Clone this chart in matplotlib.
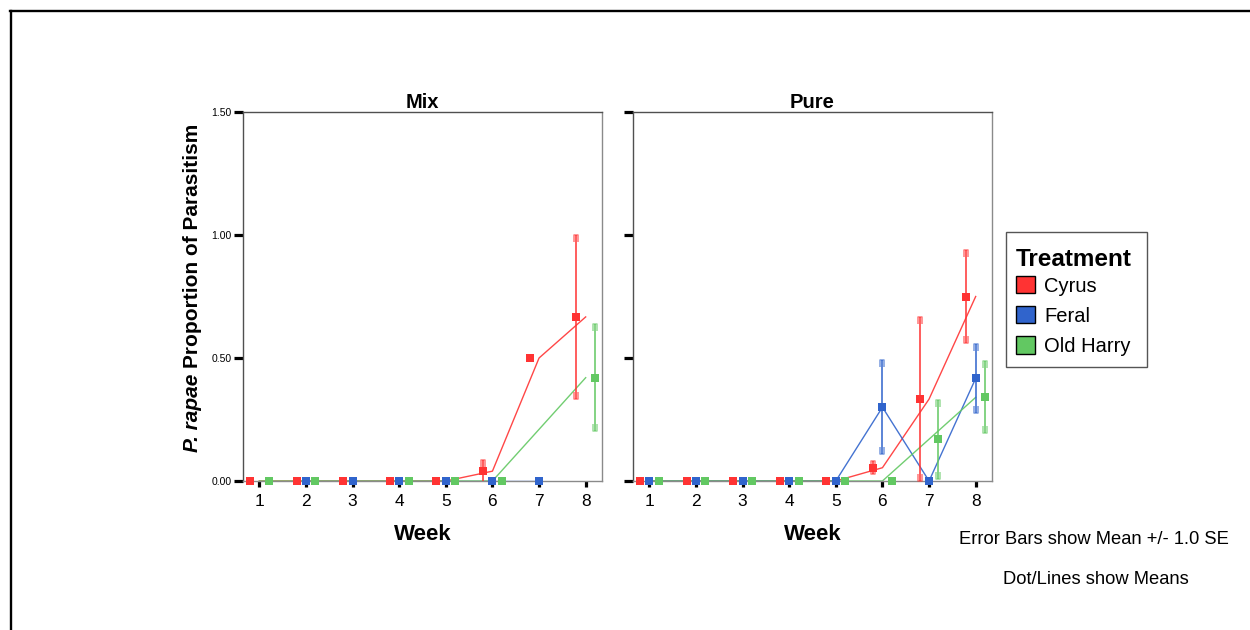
import numpy as np
import matplotlib
matplotlib.use('Agg')
import matplotlib.pyplot as plt
from matplotlib.path import Path
from matplotlib.patches import Patch, Rectangle
from matplotlib.lines import Line2D

plt.rcParams['font.family'] = ['Liberation Sans', 'DejaVu Sans']

nan = np.nan
weeks = [1, 2, 3, 4, 5, 6, 7, 8]
treatments = ['Cyrus', 'Feral', 'Old Harry']
colors = ['#ff3333', '#3064cc', '#62c862']
offsets = [-0.2, 0.0, 0.2]

# Mix plots: mean proportion parasitised and SE per week
mix_cyrus = [0, 0, 0, 0, 0, 0.04, 0.50, 0.667]
mix_cyrus_se = [0, 0, 0, 0, 0, 0.047, 0, 0.333]
mix_feral = [nan, 0, 0, 0, 0, 0, 0, nan]
mix_feral_se = [nan, 0, 0, 0, 0, 0, 0, nan]
mix_oldharry = [0, 0, nan, 0, 0, 0, nan, 0.42]
mix_oldharry_se = [0, 0, nan, 0, 0, 0, nan, 0.217]

# Pure plots
pure_cyrus = [0, 0, 0, 0, 0, 0.054, 0.333, 0.75]
pure_cyrus_se = [0, 0, 0, 0, 0, 0.027, 0.333, 0.19]
pure_feral = [0, 0, 0, 0, 0, 0.30, 0, 0.417]
pure_feral_se = [0, 0, 0, 0, 0, 0.19, 0, 0.14]
pure_oldharry = [0, 0, 0, 0, 0, 0, 0.17, 0.34]
pure_oldharry_se = [0, 0, 0, 0, 0, 0, 0.16, 0.146]

y_ticks = [0.0, 0.5, 1.0, 1.5]
y_tick_labels = ['0.00', '0.50', '1.00', '1.50']

# open bracket caps for the error bars
top_cap = Path([(-0.3, -1), (-0.3, 0), (0.3, 0), (0.3, -1)])
bottom_cap = Path([(-0.3, 1), (-0.3, 0), (0.3, 0), (0.3, 1)])


def draw_panel(ax, series, title, show_ylabels):
    x = np.array(weeks, float)
    for (means, ses), color, off in zip(series, colors, offsets):
        m = np.array(means, float)
        s = np.array(ses, float)
        ok = ~np.isnan(m)
        ax.plot(x[ok], m[ok], color=color, lw=1.0, alpha=0.9, zorder=2)
        xd = x + off
        bars = ok & (np.nan_to_num(s) > 0)
        lo = m - s
        hi = m + s
        ax.vlines(xd[bars], np.maximum(lo, 0)[bars], hi[bars], color=color, lw=1.3, alpha=0.85, zorder=3)
        ax.plot(xd[bars], hi[bars], ls='none', marker=top_cap, ms=10, mfc='none', mec=color,
                mew=1.1, alpha=0.65, zorder=3)
        low_ok = bars & (lo >= -0.001)
        ax.plot(xd[low_ok], lo[low_ok], ls='none', marker=bottom_cap, ms=10, mfc='none', mec=color,
                mew=1.1, alpha=0.65, zorder=3)
        ax.plot(xd[ok], m[ok], ls='none', marker='s', ms=6, mew=0, color=color, clip_on=False, zorder=4)

    ax.set_xlim(0.65, 8.35)
    ax.set_ylim(0, 1.5)
    ax.set_xticks(weeks)
    ax.set_yticks(y_ticks)
    if show_ylabels:
        ax.set_yticklabels(y_tick_labels)
    else:
        ax.set_yticklabels([])
    ax.tick_params(axis='x', direction='out', length=4.5, width=2.3, labelsize=12.5, pad=5, color='black')
    ax.tick_params(axis='y', direction='out', length=6.5, width=2.3, labelsize=7.5, pad=1.5, color='black')
    ax.spines['left'].set_color('#505050')
    ax.spines['top'].set_color('#505050')
    ax.spines['right'].set_color('#8a8a8a')
    ax.spines['bottom'].set_color('#8a8a8a')
    for sp in ax.spines.values():
        sp.set_linewidth(1.0)
    ax.set_title(title, fontsize=14.5, fontweight='bold', pad=3)
    ax.set_xlabel('Week', fontsize=16, fontweight='bold', labelpad=11)


fig = plt.figure(figsize=(12.5, 6.3), dpi=100)
ax_mix = fig.add_axes([243 / 1250, 1 - 481 / 630, 359 / 1250, 369 / 630])
ax_pure = fig.add_axes([633 / 1250, 1 - 481 / 630, 359 / 1250, 369 / 630])

draw_panel(ax_mix, [(mix_cyrus, mix_cyrus_se), (mix_feral, mix_feral_se),
                    (mix_oldharry, mix_oldharry_se)], 'Mix', True)
draw_panel(ax_pure, [(pure_cyrus, pure_cyrus_se), (pure_feral, pure_feral_se),
                     (pure_oldharry, pure_oldharry_se)], 'Pure', False)

# y label: species name in bold italic, rest bold
renderer = fig.canvas.get_renderer()
lab_x = 193 / 1250
lab_bottom = 1 - 452 / 630
part1 = fig.text(lab_x, lab_bottom, 'P. rapae ', rotation=90, rotation_mode='anchor',
                 ha='left', va='center', fontsize=15, fontweight='bold', fontstyle='italic')
h1 = part1.get_window_extent(renderer).height / fig.bbox.height
fig.text(lab_x, lab_bottom + h1, 'Proportion of Parasitism', rotation=90, rotation_mode='anchor',
         ha='left', va='center', fontsize=15, fontweight='bold')

# legend: box, title and entries placed separately
fig.add_artist(Rectangle((1006 / 1250, 1 - 367 / 630), 141 / 1250, 135 / 630, transform=fig.transFigure,
                         facecolor='white', edgecolor='#555555', linewidth=1.0, zorder=1))
fig.text(1016 / 1250, 1 - 259 / 630, 'Treatment', ha='left', va='center', fontsize=17.5,
         fontweight='bold', zorder=2)
handles = [Patch(facecolor=c, edgecolor='black', linewidth=1.0) for c in colors]
leg = fig.legend(handles, treatments, loc='upper left', frameon=False,
                 bbox_to_anchor=(1016 / 1250, 1 - 276 / 630), borderaxespad=0, borderpad=0,
                 fontsize=14.5, handlelength=0.95, handleheight=0.95, handletextpad=0.45,
                 labelspacing=0.52)
leg.set_zorder(2)

fig.text(1094 / 1250, 1 - 540 / 630, 'Error Bars show Mean +/- 1.0 SE', ha='center', va='center',
         fontsize=13.2)
fig.text(1096 / 1250, 1 - 579 / 630, 'Dot/Lines show Means', ha='center', va='center', fontsize=13.2)

# outer frame (top and left edges)
fig.add_artist(Line2D([10 / 1250, 1], [1 - 11 / 630, 1 - 11 / 630], color='black', lw=1.7))
fig.add_artist(Line2D([11 / 1250, 11 / 1250], [0, 1 - 11 / 630], color='black', lw=1.7))

fig.savefig('out.png', dpi=100)
